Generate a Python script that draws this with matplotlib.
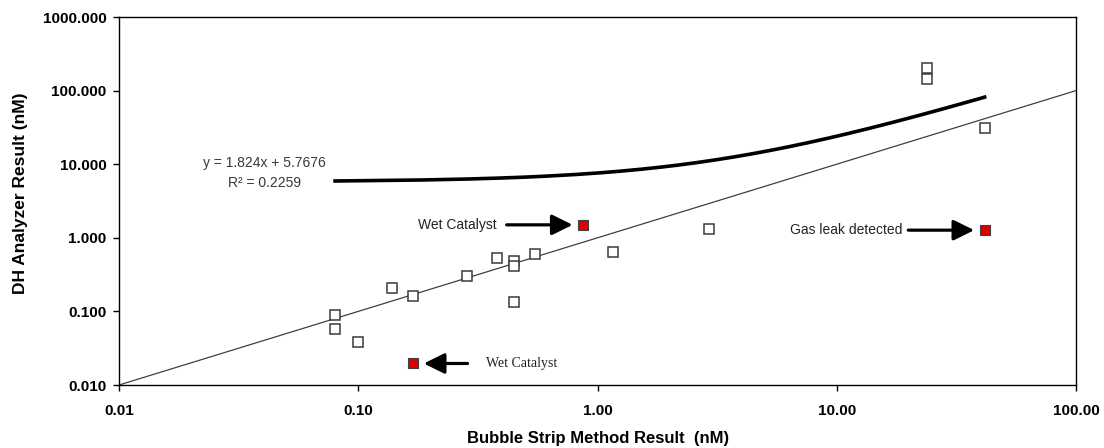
import numpy as np
import matplotlib
matplotlib.use('Agg')
import matplotlib.pyplot as plt
from matplotlib.ticker import FixedLocator, FuncFormatter, NullLocator

plt.rcParams['font.family'] = ['Liberation Sans', 'DejaVu Sans']

# regular samples (bubble strip vs DH analyzer, nM)
bubble_x = [0.08, 0.08, 0.10, 0.138, 0.17, 0.286, 0.38, 0.449, 0.449, 0.449,
            0.55, 1.16, 2.92, 23.8, 23.8, 41.5]
dh_y = [0.088, 0.057, 0.038, 0.207, 0.161, 0.305, 0.53, 0.48, 0.42, 0.134,
        0.60, 0.646, 1.31, 200.0, 143.0, 31.0]

# flagged samples
flag_x = [0.87, 0.17, 41.5]
flag_y = [1.50, 0.0196, 1.27]
flag_text = ['Wet Catalyst', 'Wet Catalyst', 'Gas leak detected']
flag_side = ['left', 'right', 'left']
flag_font = ['Liberation Sans', 'Liberation Serif', 'Liberation Sans']
# arrow tail / text offsets from the point, in points
tail_off = [55, 39, 55]
text_off = [62, 52, 59]

# trend line shown on the chart
slope = 1.824
intercept = 5.7676
r_squared = 0.2259

x_ticks = [0.01, 0.1, 1, 10, 100]
y_ticks = [0.01, 0.1, 1, 10, 100, 1000]

#############################################################################################

fig = plt.figure(figsize=(11.04, 4.48), dpi=100)
ax = fig.add_axes([119 / 1104, 1 - 385 / 448, (1076 - 119) / 1104, (385 - 17) / 448])

ax.set_xscale('log')
ax.set_yscale('log')
ax.set_xlim(0.01, 100)
ax.set_ylim(0.01, 1000)

# 1:1 line
ax.plot([0.01, 100], [0.01, 100], color='#404040', lw=0.9, zorder=2)

# linear trend line
all_x = bubble_x + flag_x
tx = np.linspace(min(all_x), max(all_x), 400)
ax.plot(tx, slope * tx + intercept, color='black', lw=2.6, zorder=3)

ax.plot(bubble_x, dh_y, linestyle='none', marker='s', ms=6.5,
        mfc='white', mec='#3a3a3a', mew=1.1, zorder=4)
ax.plot(flag_x, flag_y, linestyle='none', marker='s', ms=6.5,
        mfc='#e00000', mec='#404040', mew=0.8, zorder=4)

arrow = dict(arrowstyle='-|>,head_length=1.05,head_width=0.52', color='black',
             lw=2.3, mutation_scale=12, shrinkA=0, shrinkB=7.5)
for i in range(len(flag_x)):
    sgn = -1 if flag_side[i] == 'left' else 1
    ax.annotate('', xy=(flag_x[i], flag_y[i]), xytext=(sgn * tail_off[i], 0),
                textcoords='offset points', arrowprops=arrow)
    ax.annotate(flag_text[i], xy=(flag_x[i], flag_y[i]), xytext=(sgn * text_off[i], 0),
                textcoords='offset points',
                ha='right' if flag_side[i] == 'left' else 'left', va='center',
                fontsize=10, family=flag_font[i], color='#222222')

ax.text(0.0404, 7.6, 'y = %.3fx + %.4f\nR\u00b2 = %.4f' % (slope, intercept, r_squared),
        ha='center', va='center', fontsize=10, color='#383838', linespacing=1.55)

ax.xaxis.set_major_locator(FixedLocator(x_ticks))
ax.yaxis.set_major_locator(FixedLocator(y_ticks))
ax.xaxis.set_minor_locator(NullLocator())
ax.yaxis.set_minor_locator(NullLocator())
ax.xaxis.set_major_formatter(FuncFormatter(lambda v, p: '%.2f' % v))
ax.yaxis.set_major_formatter(FuncFormatter(lambda v, p: '%.3f' % v))
ax.tick_params(axis='x', direction='out', length=4, width=1, pad=10, labelsize=11)
ax.tick_params(axis='y', direction='out', length=4, width=1, pad=5, labelsize=11)
for lab in ax.get_xticklabels() + ax.get_yticklabels():
    lab.set_fontweight('bold')

for sp in ax.spines.values():
    sp.set_linewidth(1.0)
    sp.set_color('black')

fig.text(598 / 1104, 1 - 438 / 448, 'Bubble Strip Method Result  (nM)',
         ha='center', va='center', fontsize=12, fontweight='bold')
fig.text(21 / 1104, 1 - 193 / 448, 'DH Analyzer Result (nM)', rotation=90,
         ha='center', va='center', fontsize=12.5, fontweight='bold')

fig.savefig('out.png', dpi=100, facecolor='white')
